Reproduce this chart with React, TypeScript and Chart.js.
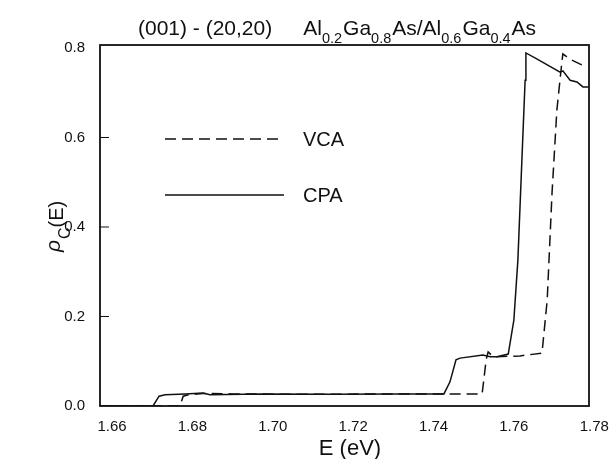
import React, { useEffect, useRef } from "react";
import { Chart, registerables } from "chart.js";
Chart.register(...registerables);

// ---- data ----
const cpaEnergy = [1.657, 1.6702, 1.6717, 1.6732, 1.6782, 1.6826, 1.6844, 1.6968, 1.7142, 1.7317, 1.7426, 1.7441, 1.7456, 1.7466, 1.7523, 1.7541, 1.7558, 1.7586, 1.76, 1.761, 1.762, 1.7628, 1.763, 1.7658, 1.7715, 1.7722, 1.774, 1.7757, 1.7772, 1.7786];
const cpaRho = [0, 0, 0.022, 0.025, 0.027, 0.029, 0.025, 0.027, 0.026, 0.027, 0.027, 0.054, 0.103, 0.107, 0.114, 0.11, 0.11, 0.116, 0.192, 0.326, 0.55, 0.728, 0.789, 0.775, 0.746, 0.749, 0.728, 0.724, 0.713, 0.713];

const vcaEnergy = [1.657, 1.6769, 1.6777, 1.679, 1.6826, 1.69, 1.71, 1.73, 1.7521, 1.7531, 1.7536, 1.7546, 1.7558, 1.7615, 1.767, 1.7683, 1.7695, 1.7707, 1.772, 1.7722, 1.774, 1.7765, 1.7777];
const vcaRho = [0, 0, 0.022, 0.025, 0.028, 0.027, 0.026, 0.027, 0.027, 0.103, 0.121, 0.112, 0.11, 0.112, 0.118, 0.237, 0.476, 0.661, 0.773, 0.787, 0.775, 0.764, 0.76];

const xTickValues = [1.66, 1.68, 1.7, 1.72, 1.74, 1.76, 1.78];
const xTickLabels = ["1.66", "1.68", "1.70", "1.72", "1.74", "1.76", "1.78"];
const yInnerTicks = [0.2, 0.4, 0.6];

const seriesNames = ["VCA", "CPA"];
const titlePieces: [string, string][] = [
  ["(001) - (20,20)", "n"], ["GAP", "g"],
  ["Al", "n"], ["0.2", "s"], ["Ga", "n"], ["0.8", "s"], ["As/Al", "n"], ["0.6", "s"], ["Ga", "n"], ["0.4", "s"], ["As", "n"],
];
const xTitle = "E (eV)";

const FONT = "'Liberation Sans', Arial, sans-serif";

function zip(xs: number[], ys: number[]) {
  return xs.map((x, i) => ({ x, y: ys[i] }));
}

const decorPlugin = {
  id: "decor",
  afterDraw(chart: any) {
    const { ctx, chartArea: a, scales } = chart;
    const xs = scales.x;
    const ys = scales.y;
    ctx.save();
    ctx.strokeStyle = "#111";
    ctx.fillStyle = "#111";
    // frame
    ctx.lineWidth = 1.8;
    ctx.strokeRect(a.left, a.top, a.right - a.left, a.bottom - a.top);
    // inner y ticks
    ctx.lineWidth = 1;
    yInnerTicks.forEach((v) => {
      const py = ys.getPixelForValue(v);
      ctx.beginPath();
      ctx.moveTo(a.left, py);
      ctx.lineTo(a.left + 9, py);
      ctx.stroke();
    });
    // x tick labels
    ctx.font = `15px ${FONT}`;
    ctx.textAlign = "center";
    ctx.textBaseline = "middle";
    xTickValues.forEach((v, i) => {
      ctx.fillText(xTickLabels[i], xs.getPixelForValue(v), 427);
    });
    // x title
    ctx.font = `22px ${FONT}`;
    ctx.textBaseline = "alphabetic";
    ctx.fillText(xTitle, 350, 455);
    // y title (rotated)
    ctx.save();
    ctx.translate(63, 252);
    ctx.rotate(-Math.PI / 2);
    ctx.textAlign = "left";
    ctx.font = `italic 21px ${FONT}`;
    ctx.fillText("ρ", 0, -3);
    let w = ctx.measureText("ρ").width + 1;
    ctx.font = `16px ${FONT}`;
    ctx.fillText("C", w, 7);
    w += ctx.measureText("C").width;
    ctx.font = `20px ${FONT}`;
    ctx.fillText("(E)", w, 0);
    ctx.restore();
    // title
    ctx.textAlign = "left";
    let tx = 138;
    titlePieces.forEach(([t, k]) => {
      if (k === "g") { tx += 31; return; }
      if (k === "s") {
        ctx.font = `14.5px ${FONT}`;
        ctx.fillText(t, tx, 42.5);
      } else {
        ctx.font = `21px ${FONT}`;
        ctx.fillText(t, tx, 35);
      }
      tx += ctx.measureText(t).width + (k === "s" ? 1 : 0);
    });
    // legend
    ctx.lineWidth = 1.5;
    ctx.font = `20px ${FONT}`;
    ctx.textBaseline = "middle";
    const legendY = [139, 195];
    const dashes = [[11, 6], []];
    seriesNames.forEach((name, i) => {
      ctx.setLineDash(dashes[i]);
      ctx.beginPath();
      ctx.moveTo(165, legendY[i]);
      ctx.lineTo(284, legendY[i]);
      ctx.stroke();
      ctx.setLineDash([]);
      ctx.fillText(name, 303, legendY[i] + 1);
    });
    ctx.restore();
  },
};

export default function App() {
  const ref = useRef<HTMLCanvasElement | null>(null);
  useEffect(() => {
    if (!ref.current) return;
    const chart = new Chart(ref.current, {
      type: "scatter",
      data: {
        datasets: [
          {
            label: "VCA",
            data: zip(vcaEnergy, vcaRho),
            showLine: true,
            borderColor: "#111",
            borderWidth: 1.5,
            borderDash: [11, 6],
            pointRadius: 0,
            tension: 0,
          },
          {
            label: "CPA",
            data: zip(cpaEnergy, cpaRho),
            showLine: true,
            borderColor: "#111",
            borderWidth: 1.5,
            pointRadius: 0,
            tension: 0,
          },
        ],
      },
      options: {
        animation: false,
        responsive: true,
        maintainAspectRatio: false,
        layout: { padding: { top: 45, right: 24, left: 0, bottom: 0 } },
        plugins: { legend: { display: false }, tooltip: { enabled: false }, title: { display: false } },
        scales: {
          x: {
            type: "linear",
            min: 1.657,
            max: 1.7787,
            grid: { display: false, drawTicks: false },
            border: { display: false },
            ticks: { display: false },
            afterFit: (s: any) => { s.height = 53; },
          },
          y: {
            type: "linear",
            min: 0,
            max: 0.8067,
            grid: { display: false, drawTicks: false },
            border: { display: false },
            ticks: {
              stepSize: 0.2,
              includeBounds: false,
              padding: 15,
              color: "#111",
              font: { family: FONT, size: 15 },
              callback: (v: any) => Number(v).toFixed(1),
            },
            afterFit: (s: any) => { s.width = 100; },
          },
        },
      },
      plugins: [decorPlugin],
    } as any);
    return () => chart.destroy();
  }, []);
  return (
    <div style={{ position: "fixed", left: 0, top: 0, width: 613, height: 459, background: "#fff" }}>
      <canvas ref={ref} />
    </div>
  );
}
